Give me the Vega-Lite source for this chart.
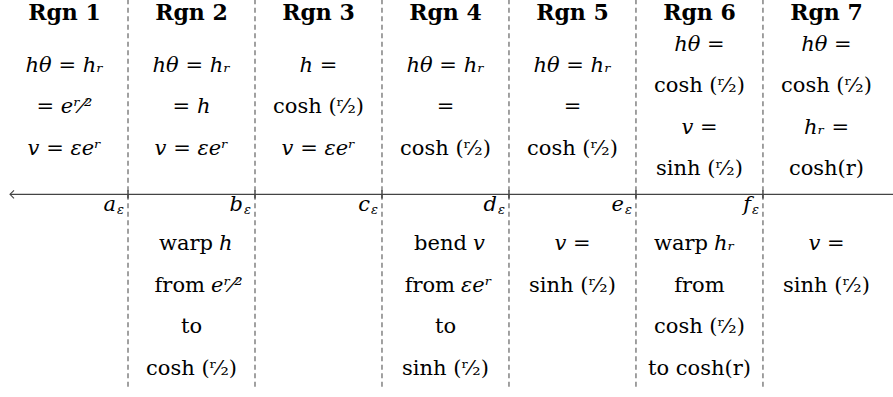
{
  "$schema": "https://vega.github.io/schema/vega-lite/v6.json",
  "width": 893,
  "height": 397,
  "padding": 0,
  "autosize": "none",
  "background": "white",
  "config": {"view": {"stroke": null}},
  "datasets": {
    "bounds": [{"k": 1, "lab": "a"}, {"k": 2, "lab": "b"}, {"k": 3, "lab": "c"}, {"k": 4, "lab": "d"}, {"k": 5, "lab": "e"}, {"k": 6, "lab": "f"}],
    "titles": [
      {"c": 0.5, "t": "Rgn 1"}, {"c": 1.5, "t": "Rgn 2"}, {"c": 2.5, "t": "Rgn 3"}, {"c": 3.5, "t": "Rgn 4"},
      {"c": 4.5, "t": "Rgn 5"}, {"c": 5.5, "t": "Rgn 6"}, {"c": 6.5, "t": "Rgn 7"}
    ],
    "body": [
      {"c": 0.5, "n": 1.5, "s": "i", "t": "hθ = hᵣ"},
      {"c": 0.5, "n": 2.5, "s": "i", "t": "= eʳ⁄²"},
      {"c": 0.5, "n": 3.5, "s": "i", "t": "v = εeʳ"},
      {"c": 1.5, "n": 1.5, "s": "i", "t": "hθ = hᵣ"},
      {"c": 1.5, "n": 2.5, "s": "i", "t": "= h"},
      {"c": 1.5, "n": 3.5, "s": "i", "t": "v = εeʳ"},
      {"c": 2.5, "n": 1.5, "s": "i", "t": "h ="},
      {"c": 2.5, "n": 2.5, "s": "u", "t": "cosh (ʳ⁄₂)"},
      {"c": 2.5, "n": 3.5, "s": "i", "t": "v = εeʳ"},
      {"c": 3.5, "n": 1.5, "s": "i", "t": "hθ = hᵣ"},
      {"c": 3.5, "n": 2.5, "s": "i", "t": "="},
      {"c": 3.5, "n": 3.5, "s": "u", "t": "cosh (ʳ⁄₂)"},
      {"c": 4.5, "n": 1.5, "s": "i", "t": "hθ = hᵣ"},
      {"c": 4.5, "n": 2.5, "s": "i", "t": "="},
      {"c": 4.5, "n": 3.5, "s": "u", "t": "cosh (ʳ⁄₂)"},
      {"c": 5.5, "n": 1, "s": "i", "t": "hθ ="},
      {"c": 5.5, "n": 2, "s": "u", "t": "cosh (ʳ⁄₂)"},
      {"c": 5.5, "n": 3, "s": "i", "t": "v ="},
      {"c": 5.5, "n": 4, "s": "u", "t": "sinh (ʳ⁄₂)"},
      {"c": 6.5, "n": 1, "s": "i", "t": "hθ ="},
      {"c": 6.5, "n": 2, "s": "u", "t": "cosh (ʳ⁄₂)"},
      {"c": 6.5, "n": 3, "s": "i", "t": "hᵣ ="},
      {"c": 6.5, "n": 4, "s": "u", "t": "cosh(r)"},
      {"c": 1.669, "n": 5.8, "s": "ur", "t": "warp"},
      {"c": 1.669, "n": 5.8, "s": "il", "t": "h"},
      {"c": 1.606, "n": 6.8, "s": "ur", "t": "from"},
      {"c": 1.606, "n": 6.8, "s": "il", "t": "eʳ⁄²"},
      {"c": 1.5, "n": 7.8, "s": "u", "t": "to"},
      {"c": 1.5, "n": 8.8, "s": "u", "t": "cosh (ʳ⁄₂)"},
      {"c": 3.669, "n": 5.8, "s": "ur", "t": "bend"},
      {"c": 3.669, "n": 5.8, "s": "il", "t": "v"},
      {"c": 3.575, "n": 6.8, "s": "ur", "t": "from"},
      {"c": 3.575, "n": 6.8, "s": "il", "t": "εeʳ"},
      {"c": 3.5, "n": 7.8, "s": "u", "t": "to"},
      {"c": 3.5, "n": 8.8, "s": "u", "t": "sinh (ʳ⁄₂)"},
      {"c": 4.5, "n": 5.8, "s": "i", "t": "v ="},
      {"c": 4.5, "n": 6.8, "s": "u", "t": "sinh (ʳ⁄₂)"},
      {"c": 5.567, "n": 5.8, "s": "ur", "t": "warp"},
      {"c": 5.567, "n": 5.8, "s": "il", "t": "hᵣ"},
      {"c": 5.5, "n": 6.8, "s": "u", "t": "from"},
      {"c": 5.5, "n": 7.8, "s": "u", "t": "cosh (ʳ⁄₂)"},
      {"c": 5.5, "n": 8.8, "s": "u", "t": "to cosh(r)"},
      {"c": 6.5, "n": 5.8, "s": "i", "t": "v ="},
      {"c": 6.5, "n": 6.8, "s": "u", "t": "sinh (ʳ⁄₂)"}
    ]
  },
  "layer": [
    {
      "data": {"name": "bounds"},
      "mark": {"type": "rule", "color": "#555555", "strokeWidth": 1.1, "strokeDash": [5, 3.5]},
      "encoding": {
        "x": {"field": "k", "type": "quantitative", "scale": {"domain": [-0.008, 7.024], "nice": false, "zero": false}, "axis": null},
        "y": {"datum": -0.1, "type": "quantitative", "scale": {"domain": [-0.0843, 9.4819], "nice": false, "zero": false, "reverse": true}, "axis": null},
        "y2": {"datum": 9.29}
      }
    },
    {
      "data": {"name": "bounds"},
      "mark": {"type": "rule", "color": "#333333", "strokeWidth": 1.3},
      "encoding": {
        "x": {"field": "k", "type": "quantitative"},
        "y": {"datum": 4.5, "type": "quantitative"},
        "y2": {"datum": 4.7}
      }
    },
    {
      "data": {"values": [{"x0": 0.0707, "x1": 7.024, "yy": 4.598}]},
      "mark": {"type": "rule", "color": "#444444", "strokeWidth": 1.3},
      "encoding": {
        "x": {"field": "x0", "type": "quantitative"},
        "x2": {"field": "x1"},
        "y": {"field": "yy", "type": "quantitative"}
      }
    },
    {
      "data": {"values": [{"x0": 0.0707, "yy": 4.598}]},
      "mark": {"type": "point", "shape": "M1,-1L0,0L1,1", "filled": false, "size": 64, "stroke": "#444444", "strokeWidth": 1.1, "opacity": 1},
      "encoding": {
        "x": {"field": "x0", "type": "quantitative"},
        "y": {"field": "yy", "type": "quantitative"}
      }
    },
    {
      "data": {"name": "titles"},
      "mark": {"type": "text", "font": "DejaVu Serif", "fontWeight": "bold", "fontSize": 22, "baseline": "alphabetic", "align": "center", "color": "#000000"},
      "encoding": {
        "x": {"field": "c", "type": "quantitative"},
        "y": {"datum": 0.398, "type": "quantitative"},
        "text": {"field": "t"}
      }
    },
    {
      "data": {"name": "body"},
      "transform": [{"filter": "datum.s == 'i'"}],
      "mark": {"type": "text", "font": "DejaVu Serif", "fontStyle": "italic", "fontSize": 21, "baseline": "middle", "align": "center", "color": "#000000"},
      "encoding": {
        "x": {"field": "c", "type": "quantitative"},
        "y": {"field": "n", "type": "quantitative"},
        "text": {"field": "t"}
      }
    },
    {
      "data": {"name": "body"},
      "transform": [{"filter": "datum.s == 'u'"}],
      "mark": {"type": "text", "font": "DejaVu Serif", "fontSize": 21, "baseline": "middle", "align": "center", "color": "#000000"},
      "encoding": {
        "x": {"field": "c", "type": "quantitative"},
        "y": {"field": "n", "type": "quantitative"},
        "text": {"field": "t"}
      }
    },
    {
      "data": {"name": "body"},
      "transform": [{"filter": "datum.s == 'ur'"}],
      "mark": {"type": "text", "font": "DejaVu Serif", "fontSize": 21, "baseline": "middle", "align": "right", "color": "#000000"},
      "encoding": {
        "x": {"field": "c", "type": "quantitative"},
        "y": {"field": "n", "type": "quantitative"},
        "text": {"field": "t"}
      }
    },
    {
      "data": {"name": "body"},
      "transform": [{"filter": "datum.s == 'il'"}],
      "mark": {"type": "text", "font": "DejaVu Serif", "fontStyle": "italic", "fontSize": 21, "baseline": "middle", "align": "left", "dx": 6, "color": "#000000"},
      "encoding": {
        "x": {"field": "c", "type": "quantitative"},
        "y": {"field": "n", "type": "quantitative"},
        "text": {"field": "t"}
      }
    },
    {
      "data": {"name": "bounds"},
      "mark": {"type": "text", "font": "DejaVu Serif", "fontStyle": "italic", "fontSize": 21, "baseline": "middle", "align": "right", "dx": -12, "color": "#000000"},
      "encoding": {
        "x": {"field": "k", "type": "quantitative"},
        "y": {"datum": 4.855, "type": "quantitative"},
        "text": {"field": "lab"}
      }
    },
    {
      "data": {"name": "bounds"},
      "mark": {"type": "text", "font": "DejaVu Serif", "fontStyle": "italic", "fontSize": 13, "baseline": "middle", "align": "right", "dx": -4, "dy": 5, "color": "#000000", "text": "ε"},
      "encoding": {
        "x": {"field": "k", "type": "quantitative"},
        "y": {"datum": 4.855, "type": "quantitative"}
      }
    }
  ]
}
